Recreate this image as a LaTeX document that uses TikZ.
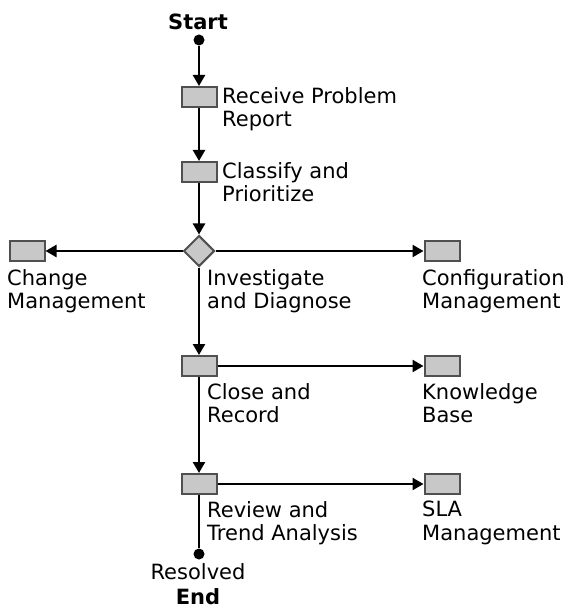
\documentclass[tikz,border=0pt]{standalone}
\usepackage{fontspec}
\setmainfont{DejaVu Sans}
\usetikzlibrary{arrows.meta,shapes.geometric}
\definecolor{boxgray}{RGB}{200,200,200}
\definecolor{edgegray}{RGB}{80,80,80}

\begin{document}
\begin{tikzpicture}[x=1pt, y=-1pt,
  every node/.style = {font=\fontsize{21}{23.5}\selectfont},
  box/.style = {shape=rectangle, draw=edgegray, line width=2pt,
    fill=boxgray, minimum width=35pt, minimum height=20pt, inner sep=0pt},
  decision/.style = {shape=diamond, draw=edgegray, line width=2pt,
    fill=boxgray, minimum width=31pt, minimum height=31pt, inner sep=0pt},
  dot/.style = {shape=circle, fill=black, minimum size=11pt, inner sep=0pt},
  lbl/.style = {anchor=north west, inner sep=0pt, align=left},
  head/.style = {anchor=north, inner sep=0pt,
    font=\fontsize{21}{23.5}\selectfont\bfseries},
  flow/.style = {line width=2.4pt, -{Triangle[length=11pt,width=12pt]}}]
  \useasboundingbox (0,0) rectangle (574,609);
  \node[dot] (start) at (199,40) {};
  \node[box] (receive) at (199,97) {};
  \node[box] (classify) at (199,172) {};
  \node[decision] (diagnose) at (199,251) {};
  \node[box] (change) at (27,251) {};
  \node[box] (config) at (442,251) {};
  \node[box] (close) at (199,366) {};
  \node[box] (kbase) at (442,366) {};
  \node[box] (review) at (199,484) {};
  \node[box] (sla) at (442,484) {};
  \node[dot] (resolved) at (199,554) {};

  \node[head] (starttxt) at (198,14) {Start};
  \node[lbl] (receivetxt) at (222,87) {Receive Problem\\Report};
  \node[lbl] (classifytxt) at (222,162) {Classify and\\Prioritize};
  \node[lbl] (diagnosetxt) at (207,269) {Investigate\\and Diagnose};
  \node[lbl] (changetxt) at (7,269) {Change\\Management};
  \node[lbl] (configtxt) at (422,269) {Configuration\\Management};
  \node[lbl] (closetxt) at (207,383) {Close and\\Record};
  \node[lbl] (kbasetxt) at (422,383) {Knowledge\\Base};
  \node[lbl] (reviewtxt) at (207,501) {Review and\\Trend Analysis};
  \node[lbl] (slatxt) at (422,501) {SLA\\Management};
  \node[anchor=north, inner sep=0pt] (resolvedtxt) at (198,563) {Resolved};
  \node[head] (endtxt) at (198,588) {End};

  \draw[flow] (start) -- (receive);
  \draw[flow] (receive) -- (classify);
  \draw[flow] (classify) -- (diagnose);
  \draw[flow] (diagnose) -- (change);
  \draw[flow] (diagnose) -- (config);
  \draw[flow] (diagnose) -- (close);
  \draw[flow] (close) -- (kbase);
  \draw[flow] (close) -- (review);
  \draw[flow] (review) -- (sla);
  \draw[line width=2.4pt] (review) -- (resolved);
\end{tikzpicture}
\end{document}
